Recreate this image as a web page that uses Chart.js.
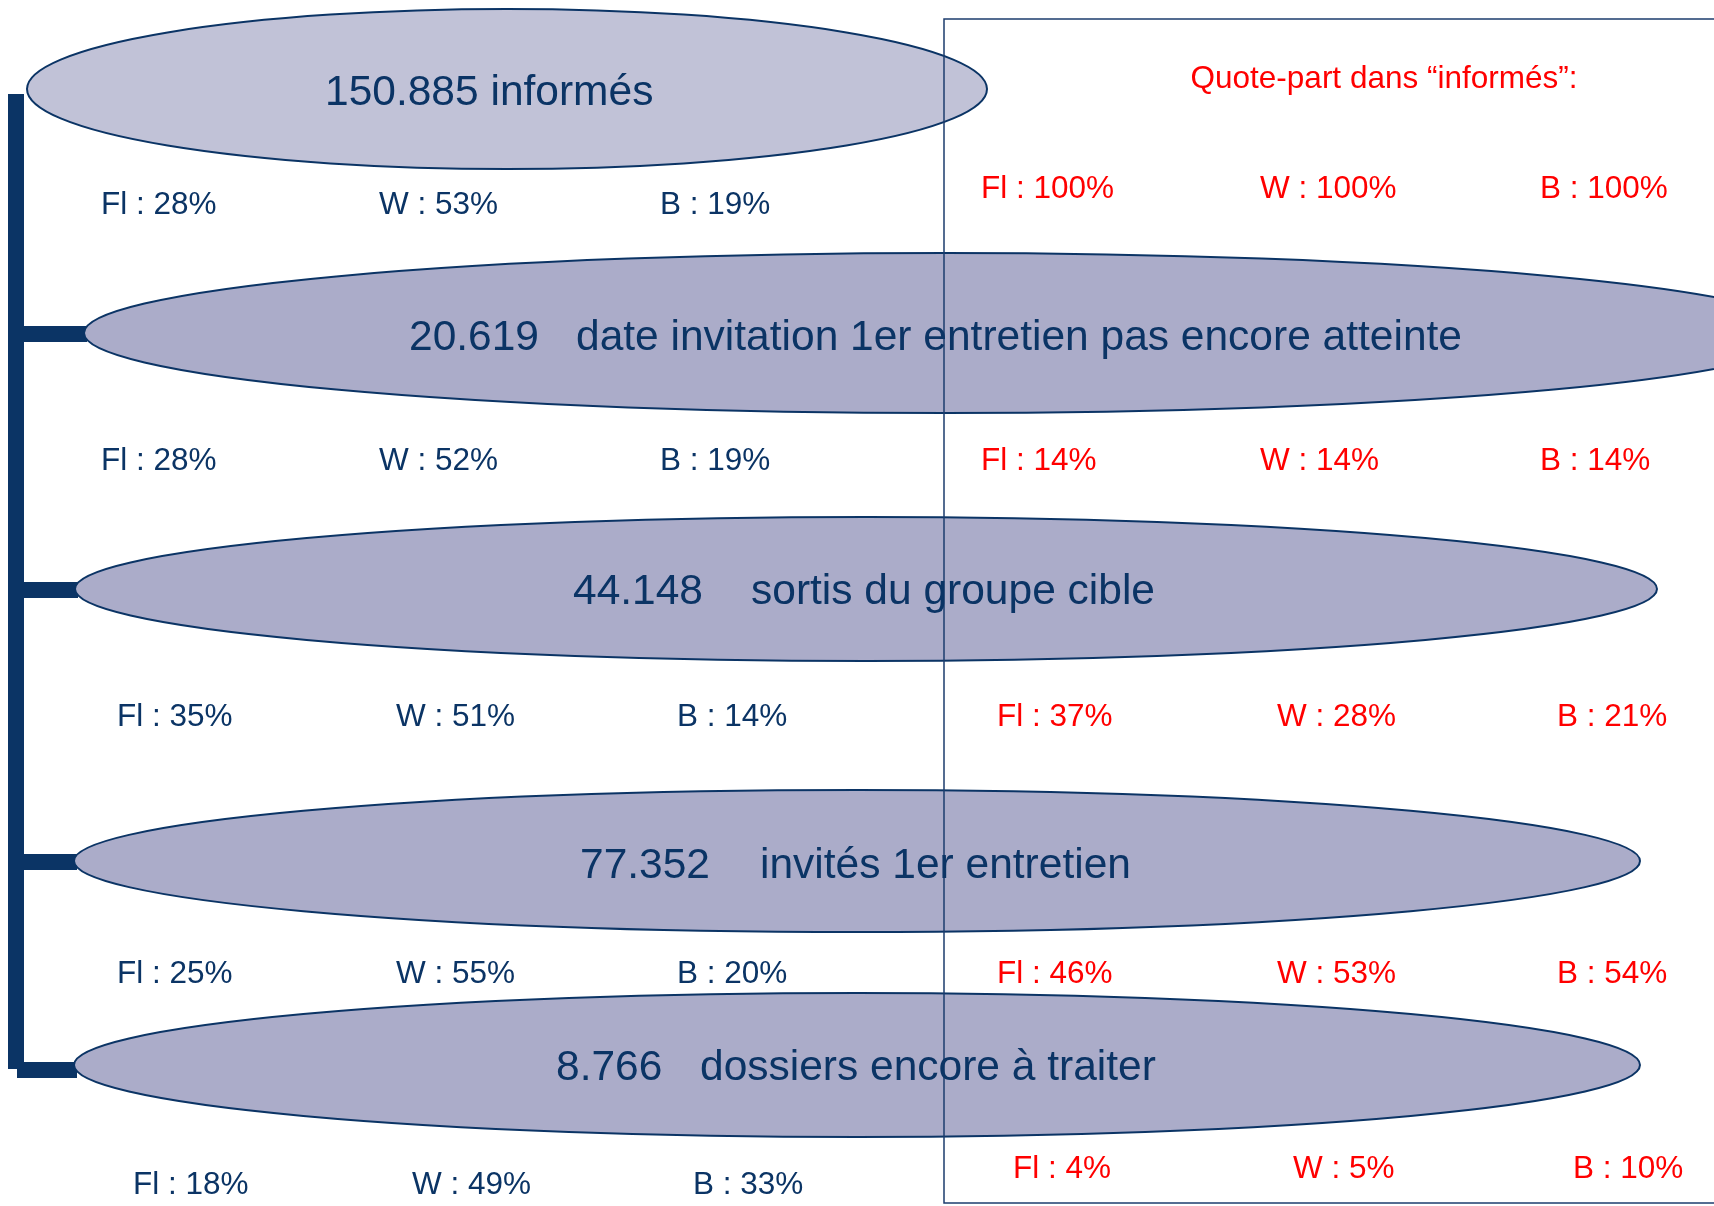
<!DOCTYPE html>
<html>
<head>
<meta charset="utf-8">
<script src="https://cdn.jsdelivr.net/npm/chart.js@4/dist/chart.umd.min.js"></script>
<style>
    html, body { margin: 0; padding: 0; background: #fff; }
    canvas { display: block; }
</style>
</head>
<body>
<canvas id="flowChart" width="1714" height="1206"></canvas>
<script>
// data
const stages = ["informés", "date invitation 1er entretien pas encore atteinte", "sortis du groupe cible", "invités 1er entretien", "dossiers encore à traiter"];
const counts = ["150.885", "20.619", "44.148", "77.352", "8.766"];
const shareFl = [28, 28, 35, 25, 18];
const shareW = [53, 52, 51, 55, 49];
const shareB = [19, 19, 14, 20, 33];
const quoteFl = [100, 14, 37, 46, 4];
const quoteW = [100, 14, 28, 53, 5];
const quoteB = [100, 14, 21, 54, 10];
const quoteTitle = "Quote-part dans \u201cinformés\u201d:";

// layout (in scale units, 1 unit = 1px)
const ellipses = [
    { cx: 507, cy: 89, rx: 480, ry: 80, fill: "#c1c2d7" },
    { cx: 945, cy: 333, rx: 861, ry: 80, fill: "#abacc9" },
    { cx: 866, cy: 589, rx: 791, ry: 72, fill: "#abacc9" },
    { cx: 857, cy: 861, rx: 783, ry: 71, fill: "#abacc9" },
    { cx: 857, cy: 1065, rx: 783, ry: 72, fill: "#abacc9" }
];
const stubY = [0, 334, 590, 862, 1070];
const labelPos = [
    { numX: 325, textX: null, y: 93 },
    { numX: 409, textX: 576, y: 338 },
    { numX: 573, textX: 751, y: 592 },
    { numX: 580, textX: 760, y: 866 },
    { numX: 556, textX: 700, y: 1068 }
];
const shareRows = [
    { x: [101, 379, 660], y: 205, qx: [981, 1260, 1540], qy: 189 },
    { x: [101, 379, 660], y: 461, qx: [981, 1260, 1540], qy: 461 },
    { x: [117, 396, 677], y: 717, qx: [997, 1277, 1557], qy: 717 },
    { x: [117, 396, 677], y: 974, qx: [997, 1277, 1557], qy: 974 },
    { x: [133, 412, 693], y: 1185, qx: [1013, 1293, 1573], qy: 1169 }
];

const NAVY = "#0b3465";
const RED = "#ff0000";
const FONT = "'Liberation Sans', Arial, sans-serif";

const diagramPlugin = {
    id: "diagram",
    beforeDatasetsDraw(chart) {
        const ctx = chart.ctx;
        const sx = chart.scales.x, sy = chart.scales.y;
        const px = (v) => sx.getPixelForValue(v);
        const py = (v) => sy.getPixelForValue(v);
        const len = (v) => px(v) - px(0);

        ctx.save();
        // bracket on the left
        ctx.fillStyle = NAVY;
        ctx.fillRect(px(8), py(94), len(16), py(1069) - py(94));
        ellipses.forEach((e, i) => {
            if (i === 0) return;
            const x0 = i === 4 ? 17 : 20;
            ctx.fillRect(px(x0), py(stubY[i] - 8), px(e.cx - e.rx + 3) - px(x0), py(stubY[i] + 8) - py(stubY[i] - 8));
        });

        // ellipses
        ellipses.forEach((e) => {
            ctx.beginPath();
            ctx.ellipse(px(e.cx), py(e.cy), len(e.rx), Math.abs(py(e.ry) - py(0)), 0, 0, Math.PI * 2);
            ctx.fillStyle = e.fill;
            ctx.fill();
            ctx.lineWidth = 2;
            ctx.strokeStyle = NAVY;
            ctx.stroke();
        });

        // box for quote-part
        ctx.strokeStyle = "#1d3c6e";
        ctx.lineWidth = 1.5;
        ctx.strokeRect(px(944), py(19), px(1720) - px(944), py(1203) - py(19));

        // stage labels
        ctx.fillStyle = NAVY;
        ctx.textBaseline = "middle";
        ctx.textAlign = "left";
        ctx.font = "42.5px " + FONT;
        labelPos.forEach((p, i) => {
            if (p.textX === null) {
                ctx.fillText(counts[i] + " " + stages[i], px(p.numX), py(p.y));
            } else {
                ctx.fillText(counts[i], px(p.numX), py(p.y));
                ctx.fillText(stages[i], px(p.textX), py(p.y));
            }
        });

        // shares
        ctx.font = "31.5px " + FONT;
        shareRows.forEach((r, i) => {
            ctx.fillStyle = NAVY;
            ctx.fillText("Fl : " + shareFl[i] + "%", px(r.x[0]), py(r.y));
            ctx.fillText("W : " + shareW[i] + "%", px(r.x[1]), py(r.y));
            ctx.fillText("B : " + shareB[i] + "%", px(r.x[2]), py(r.y));
            ctx.fillStyle = RED;
            ctx.fillText("Fl : " + quoteFl[i] + "%", px(r.qx[0]), py(r.qy));
            ctx.fillText("W : " + quoteW[i] + "%", px(r.qx[1]), py(r.qy));
            ctx.fillText("B : " + quoteB[i] + "%", px(r.qx[2]), py(r.qy));
        });

        ctx.fillStyle = RED;
        ctx.textAlign = "center";
        ctx.fillText(quoteTitle, px(1384), py(79));
        ctx.restore();
    }
};

new Chart(document.getElementById("flowChart"), {
    type: "scatter",
    data: {
        datasets: [{
            label: "stages",
            data: ellipses.map((e) => ({ x: e.cx, y: e.cy })),
            pointRadius: 0,
            showLine: false
        }]
    },
    options: {
        responsive: false,
        animation: false,
        layout: { padding: 0 },
        plugins: {
            legend: { display: false },
            tooltip: { enabled: false }
        },
        scales: {
            x: { type: "linear", min: 0, max: 1714, display: false },
            y: { type: "linear", min: 0, max: 1206, reverse: true, display: false }
        }
    },
    plugins: [diagramPlugin]
});
</script>
</body>
</html>
